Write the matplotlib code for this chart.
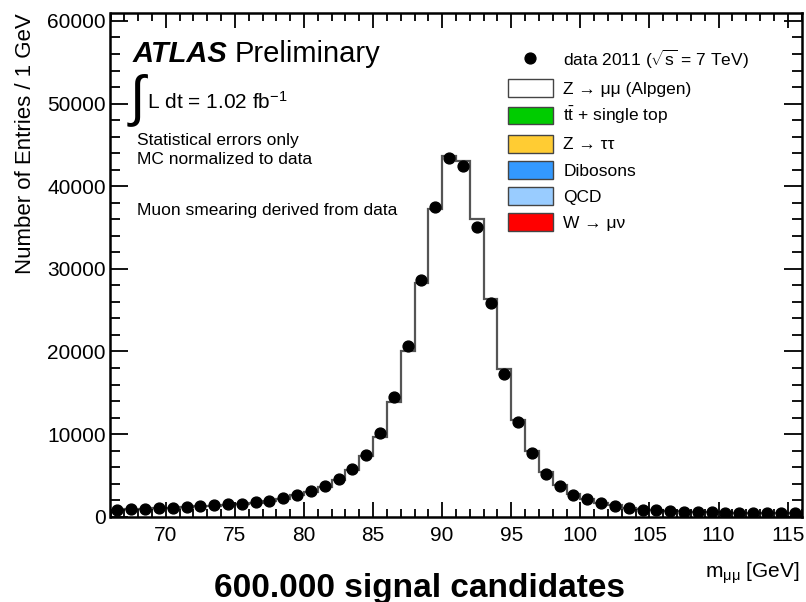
import matplotlib.pyplot as plt
import numpy as np
from matplotlib.patches import Patch
from matplotlib.lines import Line2D
from matplotlib.ticker import MultipleLocator

plt.rcParams['font.family'] = ['Liberation Sans', 'DejaVu Sans']
plt.rcParams['mathtext.fontset'] = 'custom'
plt.rcParams['mathtext.rm'] = 'Liberation Sans'
plt.rcParams['mathtext.it'] = 'Liberation Sans:italic'

# bin edges 66..116 GeV, 1 GeV bins
edges = np.arange(66, 117, 1)
centers = edges[:-1] + 0.5

data = [820, 900, 950, 1050, 1100, 1180, 1280, 1380, 1480, 1530,
        1750, 1950, 2250, 2650, 3060, 3700, 4550, 5830, 7520, 10180,
        14500, 20700, 28700, 37500, 43400, 42500, 35100, 25900, 17300, 11440,
        7690, 5150, 3740, 2650, 2130, 1650, 1330, 1050, 840, 770,
        680, 620, 580, 540, 500, 470, 450, 430, 410, 400]

mc = [830, 880, 930, 1020, 1080, 1150, 1250, 1350, 1450, 1520,
      1700, 1900, 2200, 2600, 3000, 3600, 4400, 5600, 7300, 9700,
      13900, 20100, 28300, 37200, 43700, 43100, 36000, 26300, 17900, 11700,
      7970, 5350, 3880, 2750, 2200, 1700, 1380, 1100, 880, 790,
      700, 640, 590, 550, 510, 480, 460, 440, 420, 410]

legend_labels = [r'data 2011 ($\sqrt{\mathrm{s}}$ = 7 TeV)',
                 'Z → μμ (Alpgen)',
                 r'$\mathrm{t\bar{t}}$ + single top',
                 'Z → ττ',
                 'Dibosons', 'QCD',
                 'W → μν']
legend_colors = ['white', '#00cc00', '#ffcc33', '#3399ff', '#99ccff', '#ff0000']

W, H = 806, 602
fig = plt.figure(figsize=(8.06, 6.02), dpi=100)
ax = fig.add_axes([110.5 / W, 1 - 516.7 / H, 691 / W, 504 / H])


def px(x, y):
    return x / W, 1 - y / H


ax.stairs(mc, edges, fill=True, facecolor='white', edgecolor='none')
ax.stairs(mc, edges, color='#555555', linewidth=1.6)
ax.plot(centers, data, 'o', color='black', markersize=7.8)

ax.set_xlim(66, 116)
ax.set_ylim(0, 61000)
ax.xaxis.set_major_locator(MultipleLocator(5))
ax.xaxis.set_minor_locator(MultipleLocator(1))
ax.yaxis.set_major_locator(MultipleLocator(10000))
ax.yaxis.set_minor_locator(MultipleLocator(2000))
ax.tick_params(which='both', direction='in', top=True, right=True, labelsize=15, width=1.3)
ax.tick_params(axis='x', which='major', length=11, pad=7)
ax.tick_params(axis='x', which='minor', length=5.5)
ax.tick_params(axis='y', which='major', length=13)
ax.tick_params(axis='y', which='minor', length=7)
for s in ax.spines.values():
    s.set_linewidth(1.8)

fig.text(*px(26, 13), 'Number of Entries / 1 GeV', fontsize=16, rotation=90,
         ha='center', va='top')
fig.text(*px(800, 573), 'm$_{\\mathrm{μμ}}$ [GeV]', fontsize=15, ha='right', va='center')
fig.text(*px(420, 588), '600.000 signal candidates', fontsize=24, fontweight='bold',
         ha='center', va='center')

fig.text(*px(133, 54), 'ATLAS', fontsize=21, fontweight='bold', style='italic', va='center')
fig.text(*px(235, 54), 'Preliminary', fontsize=21, va='center')
fig.text(*px(127, 101), r'$\int$', fontsize=40, va='center')
fig.text(*px(147, 102), r'L dt = 1.02 fb$^{\mathregular{-1}}$', fontsize=15, va='center')
fig.text(*px(137, 140), 'Statistical errors only', fontsize=12.5, va='center')
fig.text(*px(137, 159), 'MC normalized to data', fontsize=12.5, va='center')
fig.text(*px(137, 210), 'Muon smearing derived from data', fontsize=12.5, va='center')

handles = [Line2D([], [], marker='o', color='black', linestyle='none', markersize=7.8)]
handles += [Patch(facecolor=c, edgecolor='#444444') for c in legend_colors]
ax.legend(handles, legend_labels, loc='upper left', bbox_to_anchor=px(492, 32),
          bbox_transform=fig.transFigure,
          frameon=False, fontsize=12.5, handlelength=2.6, handleheight=1.2,
          labelspacing=0.48, handletextpad=0.6)

fig.savefig('out.png', dpi=100)
